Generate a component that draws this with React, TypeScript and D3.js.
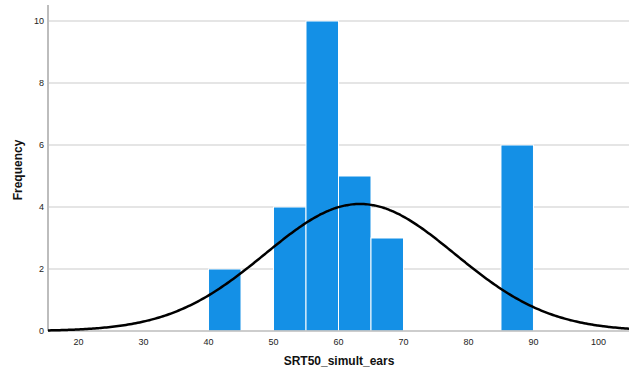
import React, { useEffect, useRef } from 'react';
import * as d3 from 'd3';

// histogram bins (lower edge, upper edge, count)
const binStarts = [40, 50, 55, 60, 65, 85];
const binEnds = [45, 55, 60, 65, 70, 90];
const binCounts = [2, 4, 10, 5, 3, 6];

const yTicks = [0, 2, 4, 6, 8, 10];
const xTicks = [20, 30, 40, 50, 60, 70, 80, 90, 100];

// normal curve parameters
const curveMean = 63.3;
const curveSd = 14.6;
const curveN = 30;
const binWidth = 5;

const W = 640, H = 376;

export default function App() {
  const ref = useRef<SVGSVGElement>(null);

  useEffect(() => {
    const svg = d3.select(ref.current);
    svg.selectAll('*').remove();

    const left = 48, right = 629, top = 21, bottom = 331;
    const x = d3.scaleLinear().domain([15.3, 104.7]).range([left, right]);
    const y = d3.scaleLinear().domain([0, 10]).range([bottom, top]);
    const font = 'Liberation Sans, Arial, sans-serif';

    // grid lines
    svg.append('g').selectAll('line')
      .data(yTicks.filter(d => d > 0))
      .enter().append('line')
      .attr('x1', left).attr('x2', right)
      .attr('y1', d => y(d)).attr('y2', d => y(d))
      .attr('stroke', '#dcdcdc').attr('stroke-width', 1.5);

    // bars
    svg.append('g').selectAll('rect')
      .data(binStarts.map((s, i) => ({ s, e: binEnds[i], c: binCounts[i] })))
      .enter().append('rect')
      .attr('x', d => x(d.s))
      .attr('width', d => x(d.e) - x(d.s))
      .attr('y', d => y(d.c))
      .attr('height', d => y(0) - y(d.c))
      .attr('fill', '#1490e6')
      .attr('stroke', '#ffffff').attr('stroke-width', 1);

    // axes lines
    svg.append('line')
      .attr('x1', left).attr('x2', left).attr('y1', 5).attr('y2', bottom)
      .attr('stroke', '#bdbdbd').attr('stroke-width', 2);
    svg.append('line')
      .attr('x1', left).attr('x2', right).attr('y1', bottom).attr('y2', bottom)
      .attr('stroke', '#bdbdbd').attr('stroke-width', 1.5);

    // normal curve
    const pts = d3.range(15.3, 104.71, 0.3);
    const norm = (v: number) =>
      curveN * binWidth / (curveSd * Math.sqrt(2 * Math.PI)) *
      Math.exp(-0.5 * Math.pow((v - curveMean) / curveSd, 2));
    svg.append('path')
      .datum(pts)
      .attr('d', d3.line<number>().x(d => x(d)).y(d => y(norm(d))).curve(d3.curveBasis))
      .attr('fill', 'none').attr('stroke', '#000').attr('stroke-width', 2.5);

    // y tick labels
    svg.append('g').selectAll('text')
      .data(yTicks).enter().append('text')
      .attr('x', 44).attr('y', d => y(d) + 3)
      .attr('text-anchor', 'end')
      .attr('font-family', font).attr('font-size', 9).attr('fill', '#222')
      .text(d => d);

    // x tick labels
    svg.append('g').selectAll('text')
      .data(xTicks).enter().append('text')
      .attr('x', d => x(d)).attr('y', 345)
      .attr('text-anchor', 'middle')
      .attr('font-family', font).attr('font-size', 9).attr('fill', '#222')
      .text(d => d);

    // titles
    svg.append('text')
      .attr('transform', 'translate(22,170) rotate(-90)')
      .attr('text-anchor', 'middle')
      .attr('font-family', font).attr('font-size', 12).attr('font-weight', 'bold').attr('fill', '#111')
      .text('Frequency');
    svg.append('text')
      .attr('x', 339).attr('y', 365)
      .attr('text-anchor', 'middle')
      .attr('font-family', font).attr('font-size', 12).attr('font-weight', 'bold').attr('fill', '#111')
      .text('SRT50_simult_ears');
  }, []);

  return (
    <svg ref={ref} width={W} height={H}
      style={{ position: 'absolute', left: 0, top: 0, background: '#fff' }} />
  );
}
